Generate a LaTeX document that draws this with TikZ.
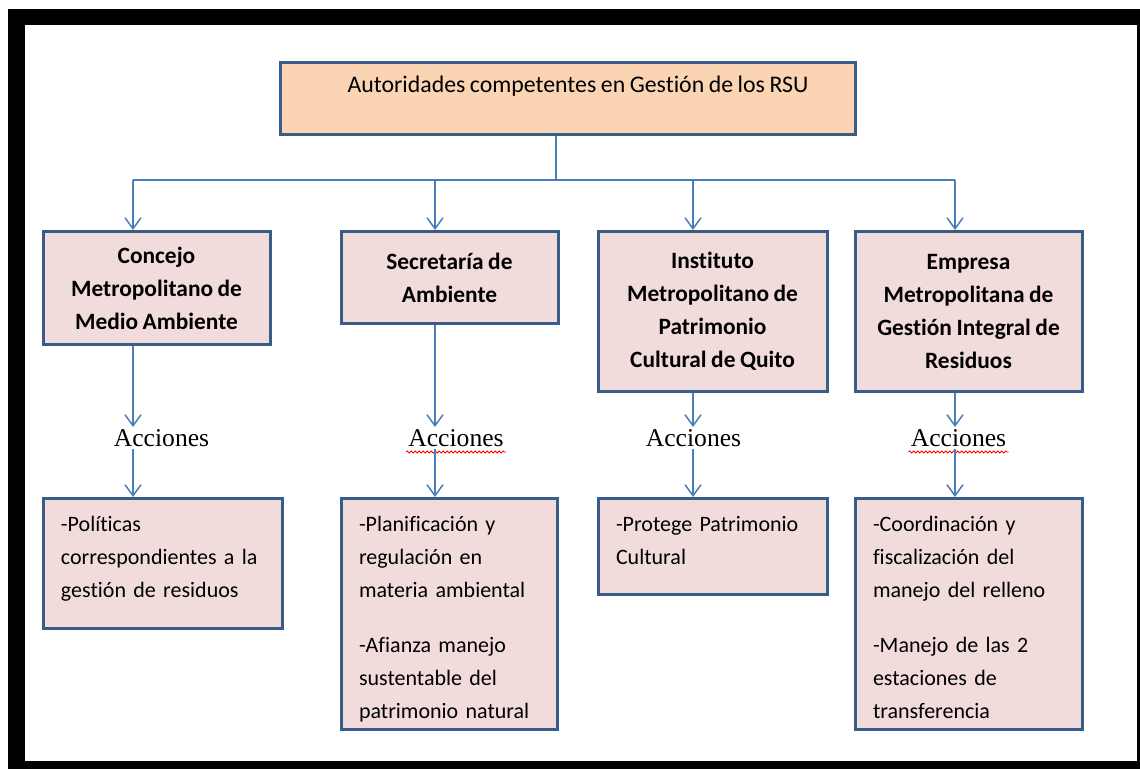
\documentclass[tikz,border=0pt]{standalone}
\usepackage{fontspec}
\setmainfont{Carlito}[Ligatures=NoCommon, WordSpace=0.85]
\newfontfamily\accfont{Liberation Serif}
\usetikzlibrary{positioning,arrows.meta,decorations.pathmorphing}
\usepackage{xcolor}
\definecolor{boxline}{HTML}{385D8A}
\definecolor{linkblue}{HTML}{4A7EBB}
\definecolor{rosefill}{HTML}{F2DCDB}
\definecolor{peachfill}{HTML}{FBD4B4}

\begin{document}
\begin{tikzpicture}[
            x=0.5pt, y=-0.5pt,
            every node/.style={font=\fontsize{11}{16.5}\selectfont},
            head/.style={draw=boxline, line width=1.5pt, fill=peachfill, minimum width=287.5pt, minimum height=36pt, text height=8.5pt, text depth=14.5pt, font=\fontsize{11.9}{16.5}\selectfont},
            entity/.style={draw=boxline, line width=1.5pt, fill=rosefill, align=center, anchor=north, font=\fontsize{11.7}{16.5}\selectfont\bfseries},
            task/.style={draw=boxline, line width=1.5pt, fill=rosefill, align=left, inner xsep=9pt, inner ysep=8pt, text height=8.5pt},
            accion/.style={font=\accfont\fontsize{12.8}{14}\selectfont, inner sep=1pt},
            link/.style={draw=linkblue, line width=0.75pt},
            arr/.style={link, -{Straight Barb[length=5.5pt,width=8pt]}},
            spell/.style={draw=red, line width=0.4pt, decorate, decoration={snake, amplitude=0.5pt, segment length=2pt}}
        ]
            \useasboundingbox (0,0) rectangle (1140,769);
            % black frame
            \fill[black] (8,9) rectangle (1140,25);
            \fill[black] (8,9) rectangle (25,769);
            \fill[black] (8,761) rectangle (1140,769);
            \fill[black] (1137,9) rectangle (1140,769);

            \node[head] (head) at (567.5,99) {\hspace*{10.5pt}Autoridades competentes en Gestión de los RSU};

            \node[entity, minimum width=113.5pt, minimum height=56.5pt] (b1) at (156.5,230) {Concejo\\Metropolitano de\\Medio Ambiente};
            \node[entity, minimum width=108.5pt, minimum height=46pt] (b2) at (449.5,230) {Secretaría de\\Ambiente};
            \node[entity, minimum width=114.5pt, minimum height=80pt] (b3) at (712.5,230) {Instituto\\Metropolitano de\\Patrimonio\\Cultural de Quito};
            \node[entity, minimum width=113.5pt, minimum height=80pt] (b4) at (968.5,230) {Empresa\\Metropolitana de\\Gestión Integral de\\Residuos};

            \node[accion] (a1) at (161.5,438) {Acciones};
            \node[accion] (a2) at (456,438) {Acciones};
            \node[accion] (a3) at (693.5,438) {Acciones};
            \node[accion] (a4) at (958.5,438) {Acciones};

            \node[task, below=133.5pt of b1.north west, anchor=north west, text width=101.5pt, text depth=40.5pt] (c1) {-Políticas\\correspondientes a la\\gestión de residuos};
            \node[task, below=133.5pt of b2.north west, anchor=north west, text width=90pt, text depth=91pt] (c2) {-Planificación y\\regulación en\\materia ambiental\\[11pt]-Afianza manejo\\sustentable del\\patrimonio natural};
            \node[task, below=133.5pt of b3.north west, anchor=north west, text width=96.5pt, text depth=23.5pt] (c3) {-Protege Patrimonio\\Cultural};
            \node[task, below=133.5pt of b4.north west, anchor=north west, text width=95.5pt, text depth=91pt] (c4) {-Coordinación y\\fiscalización del\\manejo del relleno\\[11pt]-Manejo de las 2\\estaciones de\\transferencia};

            \draw[spell] ([yshift=-1.5pt]a2.south west) -- ([yshift=-1.5pt]a2.south east);
            \draw[spell] ([yshift=-1.5pt]a4.south west) -- ([yshift=-1.5pt]a4.south east);

            \coordinate (k0) at (556,180);
            \coordinate (k1) at (133,180);
            \coordinate (k2) at (435,180);
            \coordinate (k3) at (693,180);
            \coordinate (k4) at (955,180);

            \draw[link] (head.south -| k0) -- (k0);
            \draw[link] (k1) -- (k4);
            \foreach \i in {1,...,4} {
                \draw[arr] (k\i) -- (k\i |- b\i.north);
                \draw[arr] (b\i.south -| k\i) -- (k\i |- a\i.north);
                \draw[arr] (a\i.south -| k\i) -- (k\i |- c\i.north);
            }
        \end{tikzpicture}
\end{document}
